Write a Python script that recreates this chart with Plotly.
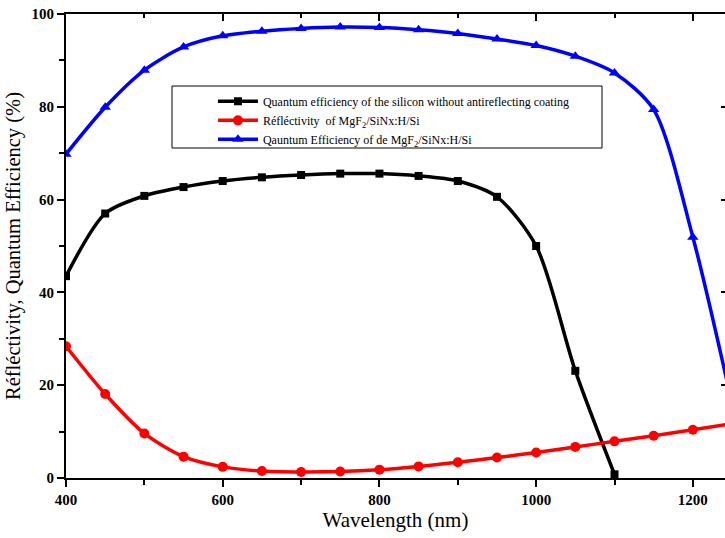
import plotly.graph_objects as go

wl_black = [400, 450, 500, 550, 600, 650, 700, 750, 800, 850, 900, 950, 1000, 1050, 1100]
qe_bare = [43.5, 57.0, 60.8, 62.7, 64.0, 64.8, 65.3, 65.6, 65.6, 65.1, 64.0, 60.6, 50.0, 23.1, 0.8]

wl_full = [400, 450, 500, 550, 600, 650, 700, 750, 800, 850, 900, 950, 1000, 1050, 1100, 1150, 1200, 1250]
refl = [28.4, 18.1, 9.6, 4.6, 2.4, 1.5, 1.3, 1.4, 1.8, 2.5, 3.4, 4.4, 5.5, 6.7, 7.9, 9.1, 10.4, 11.7]
qe_arc = [69.8, 79.9, 87.9, 92.9, 95.3, 96.3, 96.9, 97.2, 97.1, 96.6, 95.8, 94.6, 93.2, 90.9, 87.3, 79.4, 51.9, 16.0]

names = [
    "Quantum efficiency of the silicon without antireflecting coating",
    "Réfléctivity  of MgF<sub>2</sub>/SiNx:H/Si",
    "Qauntum Efficiency of de MgF<sub>2</sub>/SiNx:H/Si",
]

FONT = "Liberation Serif"
TITLE_FONT = "Times New Roman, Liberation Serif, serif"

fig = go.Figure()
fig.add_trace(go.Scatter(x=wl_black, y=qe_bare, name=names[0], mode="lines+markers",
                         line=dict(color="black", width=3.5, shape="spline", smoothing=0.8),
                         marker=dict(symbol="square", size=8, color="black")))
fig.add_trace(go.Scatter(x=wl_full, y=refl, name=names[1], mode="lines+markers",
                         line=dict(color="#ff0000", width=3.5, shape="spline", smoothing=0.8),
                         marker=dict(symbol="circle", size=10, color="#ff0000")))
fig.add_trace(go.Scatter(x=wl_full, y=qe_arc, name=names[2], mode="lines+markers",
                         line=dict(color="#0000ff", width=3.5, shape="spline", smoothing=0.8),
                         marker=dict(symbol="triangle-up", size=10, color="#0000ff")))

axis_common = dict(showgrid=False, zeroline=False, showline=True, linecolor="black", linewidth=2,
                   tickcolor="black", tickwidth=1.5,
                   tickfont=dict(family=FONT, size=15, color="black", weight="bold"))

fig.update_layout(
    template="none",
    width=725, height=538,
    margin=dict(l=66, r=0, t=14, b=60),
    plot_bgcolor="white", paper_bgcolor="white",
    font=dict(family=FONT, color="black"),
    xaxis=dict(range=[400, 1241], tick0=400, dtick=200, ticks="outside", ticklen=7,
               minor=dict(dtick=100, ticks="outside", ticklen=5, tickcolor="black", tickwidth=1.5),
               title=dict(text="Wavelength (nm)", font=dict(family=TITLE_FONT, size=21, color="black", weight="normal"), standoff=3),
               **axis_common),
    yaxis=dict(range=[0, 100], tick0=0, dtick=20, ticks="outside", ticklen=7,
               minor=dict(dtick=10, ticks="outside", ticklen=5, tickcolor="black", tickwidth=1.5),
               title=dict(text="Réfléctivity, Quantum Efficiency (%)", font=dict(family=TITLE_FONT, size=20.5, color="black", weight="normal"), standoff=5),
               **axis_common),
    xaxis2=dict(range=[400, 1241], overlaying="x", side="top", anchor="y", tick0=400, dtick=200,
                ticks="inside", ticklen=7, showticklabels=False, showgrid=False, zeroline=False,
                showline=True, linecolor="black", linewidth=2, tickcolor="black", tickwidth=1.5,
                minor=dict(dtick=100, ticks="inside", ticklen=4, tickcolor="black", tickwidth=1.5)),
    yaxis2=dict(range=[0, 100], overlaying="y", side="right", anchor="x", tick0=0, dtick=20,
                ticks="inside", ticklen=4, showticklabels=False, showgrid=False, zeroline=False,
                showline=True, linecolor="black", linewidth=2, tickcolor="black", tickwidth=1.5),
    legend=dict(x=0.223, y=0.843, xanchor="left", yanchor="top", bgcolor="rgba(0,0,0,0)",
                font=dict(family=FONT, size=12, color="black"), tracegroupgap=0,
                itemwidth=40, borderwidth=0),
    shapes=[dict(type="rect", xref="paper", yref="paper",
                 x0=(172 - 66) / 659, x1=(602 - 66) / 659,
                 y0=(478 - 148) / 464, y1=(478 - 86) / 464,
                 line=dict(color="black", width=1), fillcolor="rgba(0,0,0,0)")],
)
fig.add_trace(go.Scatter(x=[None], y=[None], xaxis="x2", yaxis="y2", showlegend=False, hoverinfo="skip"))

fig.write_html("out.html")
